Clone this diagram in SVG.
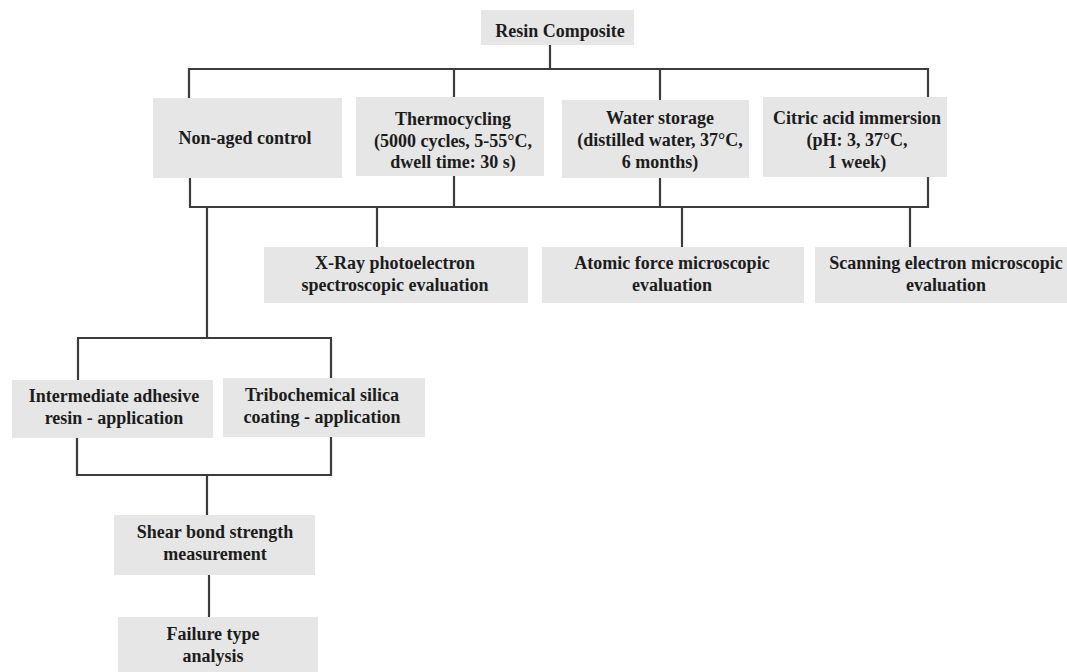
<svg xmlns="http://www.w3.org/2000/svg" width="1067" height="672" viewBox="0 0 1067 672">
<style>
.box{fill:#e6e6e6;}
.t{font-family:"Liberation Serif","Times New Roman",serif;font-weight:bold;font-size:18px;fill:#1c1c1c;text-anchor:middle;}
.c{fill:none;stroke:#3c3c3c;stroke-width:2.2;}
</style>
<rect width="1067" height="672" fill="#ffffff"/>
<g id="connectors">
<path class="c" d="M550,45 V69 M189,98 V69 H928 V97 M454,69 V97 M660,69 V100"/>
<path class="c" d="M190,177 V207 H928 V177 M454,176 V207 M660,178 V207"/>
<path class="c" d="M377,207 V247 M682,207 V247 M910,207 V247"/>
<path class="c" d="M207,207 V338 M78,380 V338 H331 V378"/>
<path class="c" d="M77,438 V475 H331 V437 M207,475 V515"/>
<path class="c" d="M209,575 V617"/>
</g>
<g id="resin">
<rect class="box" x="481" y="10" width="153" height="35"/>
<text class="t" x="560" y="37">Resin Composite</text>
</g>
<g id="nonaged">
<rect class="box" x="153" y="98" width="189" height="80"/>
<text class="t" x="245" y="144">Non-aged control</text>
</g>
<g id="thermo">
<rect class="box" x="356" y="97" width="188" height="79"/>
<text class="t" x="453" y="125">Thermocycling</text>
<text class="t" x="453" y="147">(5000 cycles, 5-55°C,</text>
<text class="t" x="453" y="168">dwell time: 30 s)</text>
</g>
<g id="water">
<rect class="box" x="562" y="100" width="187" height="78"/>
<text class="t" x="660" y="124">Water storage</text>
<text class="t" x="660" y="146">(distilled water, 37°C,</text>
<text class="t" x="660" y="168">6 months)</text>
</g>
<g id="citric">
<rect class="box" x="763" y="97" width="184" height="80"/>
<text class="t" x="857" y="124">Citric acid immersion</text>
<text class="t" x="857" y="146">(pH: 3, 37°C,</text>
<text class="t" x="857" y="168">1 week)</text>
</g>
<g id="xray">
<rect class="box" x="264" y="247" width="264" height="56"/>
<text class="t" x="395" y="269">X-Ray photoelectron</text>
<text class="t" x="395" y="291">spectroscopic evaluation</text>
</g>
<g id="afm">
<rect class="box" x="542" y="247" width="262" height="56"/>
<text class="t" x="672" y="269">Atomic force microscopic</text>
<text class="t" x="672" y="291">evaluation</text>
</g>
<g id="sem">
<rect class="box" x="815" y="247" width="255" height="56"/>
<text class="t" x="946" y="269">Scanning electron microscopic</text>
<text class="t" x="946" y="291">evaluation</text>
</g>
<g id="intermediate">
<rect class="box" x="12" y="380" width="201" height="58"/>
<text class="t" x="114" y="402">Intermediate adhesive</text>
<text class="t" x="114" y="424">resin - application</text>
</g>
<g id="tribo">
<rect class="box" x="223" y="378" width="202" height="59"/>
<text class="t" x="322" y="401">Tribochemical silica</text>
<text class="t" x="322" y="423">coating - application</text>
</g>
<g id="shear">
<rect class="box" x="114" y="515" width="201" height="60"/>
<text class="t" x="215" y="538">Shear bond strength</text>
<text class="t" x="215" y="560">measurement</text>
</g>
<g id="failure">
<rect class="box" x="118" y="617" width="200" height="58"/>
<text class="t" x="213" y="640">Failure type</text>
<text class="t" x="213" y="662">analysis</text>
</g>
</svg>
